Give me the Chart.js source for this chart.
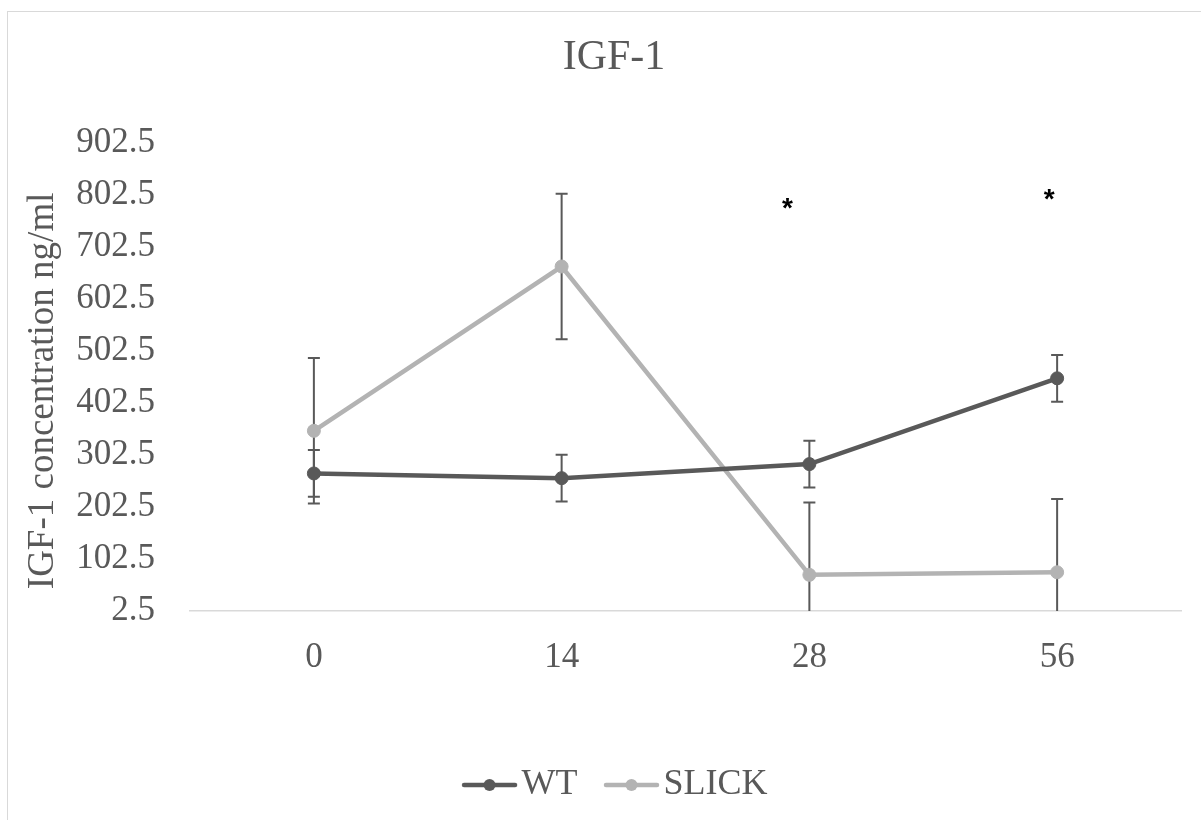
<!DOCTYPE html>
<html>
<head>
<meta charset="utf-8">
<script src="https://cdn.jsdelivr.net/npm/chart.js@4.4.1/dist/chart.umd.min.js"></script>
<style>
html, body { margin: 0; padding: 0; background: #ffffff; overflow: hidden; width: 1201px; height: 820px; }
#frame { position: absolute; left: 7px; top: 11px; width: 1400px; height: 1000px; border-left: 1px solid #d9d9d9; border-top: 1px solid #d9d9d9; }
#wrap { position: absolute; left: 0; top: 0; width: 1228px; height: 820px; }
</style>
</head>
<body>
<div id="frame"></div>
<div id="wrap"><canvas id="c" width="1228" height="820"></canvas></div>
<script>
// ---- data ----
const categories = ['0', '14', '28', '56'];
const wtValues = [267, 258, 285, 450];
const wtErrors = [45, 45, 45, 45];
const slickValues = [349, 665, 72, 77];
const slickErrors = [140, 140, 139, 141];
const yTickLabels = ['2.5', '102.5', '202.5', '302.5', '402.5', '502.5', '602.5', '702.5', '802.5', '902.5'];
const seriesNames = ['WT', 'SLICK'];
const sigCategories = ['28', '56'];
const sigValues = [787, 804];

// ---- style ----
const WT_COLOR = '#595959';
const SLICK_COLOR = '#b3b3b3';
const TEXT_COLOR = '#595959';
const SERIF = "'Liberation Serif', 'Times New Roman', serif";

function legendIcon(color) {
  const c = document.createElement('canvas');
  c.width = 86; c.height = 16;
  const g = c.getContext('2d');
  g.strokeStyle = color; g.lineWidth = 4.5; g.lineCap = 'round';
  g.beginPath(); g.moveTo(25, 8); g.lineTo(76, 8); g.stroke();
  g.fillStyle = color;
  g.beginPath(); g.arc(50.5, 8, 6, 0, Math.PI * 2); g.fill();
  return c;
}
const icons = [legendIcon(WT_COLOR), legendIcon(SLICK_COLOR)];

const errorBarPlugin = {
  id: 'errorBars',
  beforeDatasetsDraw(chart, args, opts) {
    const { ctx, chartArea, scales: { y } } = chart;
    ctx.save();
    ctx.beginPath();
    ctx.rect(chartArea.left, chartArea.top, chartArea.right - chartArea.left, chartArea.bottom - chartArea.top);
    ctx.clip();
    ctx.strokeStyle = opts.color;
    ctx.lineWidth = opts.width;
    chart.data.datasets.forEach((ds, di) => {
      const meta = chart.getDatasetMeta(di);
      ds.errors.forEach((e, i) => {
        const x = meta.data[i].x;
        const v = ds.data[i];
        const yt = y.getPixelForValue(v + e);
        const yb = y.getPixelForValue(v - e);
        ctx.beginPath();
        ctx.moveTo(x, yt); ctx.lineTo(x, yb);
        ctx.moveTo(x - opts.cap, yt); ctx.lineTo(x + opts.cap, yt);
        ctx.moveTo(x - opts.cap, yb); ctx.lineTo(x + opts.cap, yb);
        ctx.stroke();
      });
    });
    ctx.restore();
  }
};

const sigPlugin = {
  id: 'sigMarks',
  afterDatasetsDraw(chart, args, opts) {
    const { ctx, scales: { x, y } } = chart;
    ctx.save();
    ctx.font = opts.weight + ' ' + opts.size + 'px ' + opts.family;
    ctx.fillStyle = opts.color;
    ctx.textAlign = 'center';
    ctx.textBaseline = 'middle';
    sigCategories.forEach((c, i) => {
      const px = x.getPixelForValue(categories.indexOf(c)) + opts.dx[i];
      const py = y.getPixelForValue(sigValues[i]) + opts.size * 0.22;
      ctx.fillText('*', px, py);
    });
    ctx.restore();
  }
};

new Chart(document.getElementById('c'), {
  type: 'line',
  data: {
    labels: categories,
    datasets: [
      {
        label: seriesNames[0], data: wtValues, errors: wtErrors,
        borderColor: WT_COLOR, backgroundColor: WT_COLOR,
        pointBackgroundColor: WT_COLOR, pointBorderColor: WT_COLOR,
        borderWidth: 4.5, pointRadius: 6.5, pointBorderWidth: 1, tension: 0, fill: false
      },
      {
        label: seriesNames[1], data: slickValues, errors: slickErrors,
        borderColor: SLICK_COLOR, backgroundColor: SLICK_COLOR,
        pointBackgroundColor: SLICK_COLOR, pointBorderColor: SLICK_COLOR,
        borderWidth: 4.5, pointRadius: 6.5, pointBorderWidth: 1, tension: 0, fill: false
      }
    ]
  },
  options: {
    responsive: false,
    animation: false,
    devicePixelRatio: 1,
    layout: { padding: { left: 47, right: 47, top: 0, bottom: 7 } },
    plugins: {
      title: {
        display: true, text: 'IGF-1', color: TEXT_COLOR,
        font: { family: SERIF, size: 42, weight: 'normal', lineHeight: 1.2 },
        padding: { top: 33, bottom: 59.6 }
      },
      legend: {
        display: true, position: 'bottom',
        labels: {
          color: TEXT_COLOR,
          font: { family: SERIF, size: 36 },
          usePointStyle: true, pointStyleWidth: 43, padding: 25,
          generateLabels(chart) {
            const items = Chart.defaults.plugins.legend.labels.generateLabels(chart);
            items.forEach((it, i) => { it.pointStyle = icons[i]; });
            return items;
          }
        }
      },
      tooltip: { enabled: false },
      errorBars: { color: '#595959', width: 2, cap: 6 },
      sigMarks: { color: '#000000', family: "'Liberation Sans', Arial, sans-serif", weight: 'bold', size: 28, dx: [-22, -8] }
    },
    scales: {
      x: {
        offset: true,
        grid: { display: false, drawTicks: false, offset: true },
        border: { display: true, color: '#d9d9d9', width: 1.5 },
        ticks: { color: TEXT_COLOR, font: { family: SERIF, size: 35 }, padding: 26, maxRotation: 0 },
        afterFit(scale) { scale.height = 131; }
      },
      y: {
        min: 2.5, max: 902.5,
        grid: { display: false, drawTicks: false },
        border: { display: false },
        ticks: {
          stepSize: 100, color: TEXT_COLOR, font: { family: SERIF, size: 35 }, padding: 35,
          callback(v, i) { return yTickLabels[i]; }
        },
        title: {
          display: true, text: 'IGF-1 concentration ng/ml   ', color: TEXT_COLOR,
          font: { family: SERIF, size: 37, lineHeight: 1.2 },
          padding: { top: -26.2, bottom: 0 }
        },
        afterFit(scale) { scale.width = 143; }
      }
    }
  },
  plugins: [errorBarPlugin, sigPlugin]
});
</script>
</body>
</html>
